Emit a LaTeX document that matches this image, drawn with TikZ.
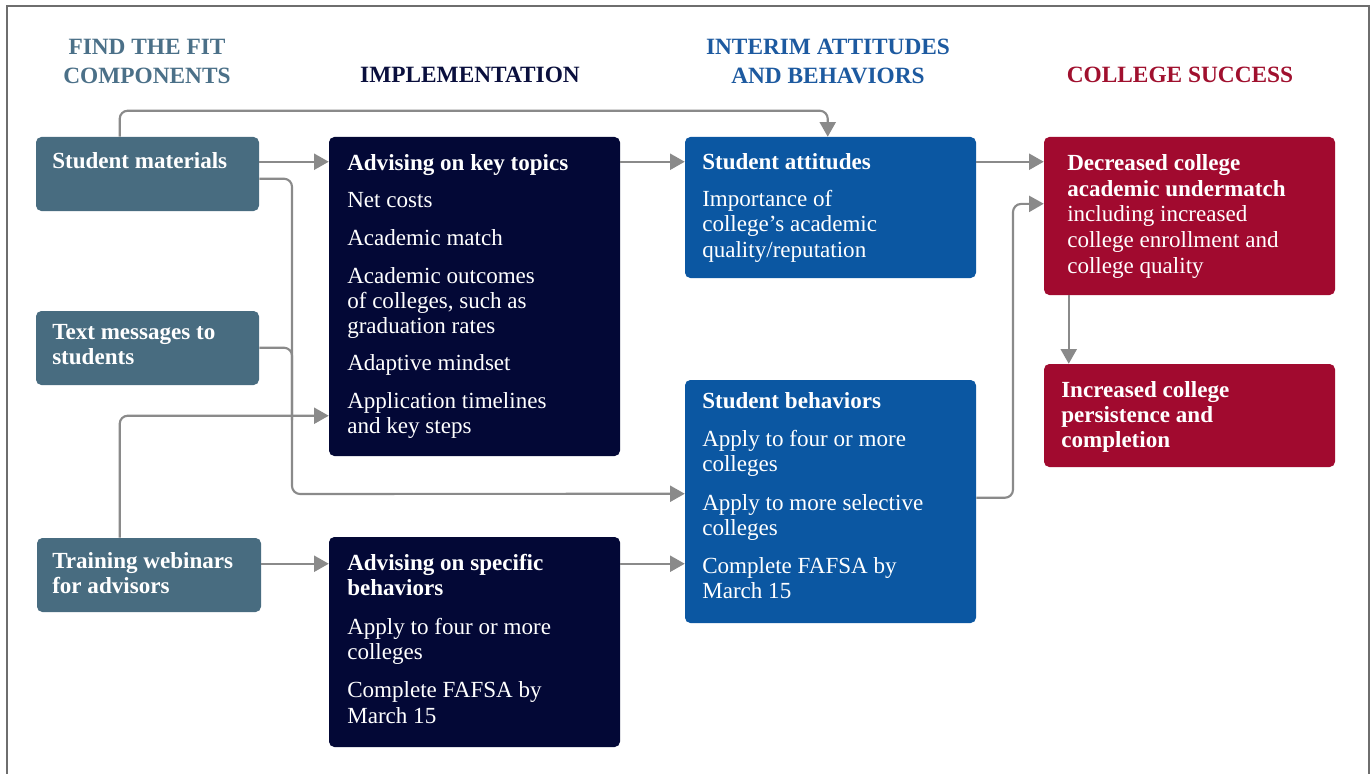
\documentclass[tikz,border=0pt]{standalone}
\usepackage{fontspec}
\setmainfont{Liberation Serif}
\usetikzlibrary{arrows.meta,calc,fit}
\definecolor{slate}{HTML}{486C80}
\definecolor{hslate}{HTML}{4B7088}
\definecolor{navy}{HTML}{030836}
\definecolor{hnavy}{HTML}{0A0F3D}
\definecolor{blu}{HTML}{0B57A2}
\definecolor{hblu}{HTML}{1D5AA0}
\definecolor{crim}{HTML}{A10A2F}
\definecolor{hcrim}{HTML}{A0102E}
\definecolor{lineg}{HTML}{8A8A8A}
\definecolor{framec}{HTML}{6E6E6E}
\begin{document}
\begin{tikzpicture}[x=0.75pt,y=-0.75pt,
  box/.style={rounded corners=4pt, inner sep=0pt, draw=none},
  txt/.style={anchor=north west, inner sep=0pt, text=white, align=left,
    font=\fontsize{17.3}{18.8}\selectfont},
  hdr/.style={inner sep=0pt, align=center, font=\bfseries\fontsize{17.5}{21.75}\selectfont},
  conn/.style={draw=lineg, line width=1.6pt, rounded corners=6pt,
    -{Triangle[length=11pt,width=12pt]}},
  plain/.style={draw=lineg, line width=1.6pt, rounded corners=6pt}
]
\useasboundingbox (0,0) rectangle (1372,774);
\fill[white] (0,0) rectangle (1372,774);
\draw[framec, line width=1.2pt] (7,774) -- (7,6) -- (1369,6) -- (1369,774);

% headers
\node[hdr, text=hslate, anchor=north] (h1) at (147,38.5) {FIND THE FIT\\COMPONENTS};
\node[hdr, text=hnavy, anchor=base] (h2) at (470,83) {IMPLEMENTATION};
\node[hdr, text=hblu, anchor=north] (h3) at (828,38.5) {INTERIM ATTITUDES\\AND BEHAVIORS};
\node[hdr, text=hcrim, anchor=base] (h4) at (1180,83) {COLLEGE SUCCESS};

% boxes
\node[box, fill=slate, fit={(36,137)(259,211)}] (sm) {};
\node[box, fill=slate, fit={(36,311)(259,385)}] (tm) {};
\node[box, fill=slate, fit={(37,538)(261,612)}] (tw) {};
\node[box, fill=navy, fit={(329,137)(620,456)}] (akt) {};
\node[box, fill=navy, fit={(329,537)(620,747)}] (asb) {};
\node[box, fill=blu, fit={(685,137)(976,278)}] (sa) {};
\node[box, fill=blu, fit={(685,380)(976,623)}] (sb) {};
\node[box, fill=crim, fit={(1044,137)(1335,295)}] (dec) {};
\node[box, fill=crim, fit={(1044,364)(1335,467)}] (inc) {};

% texts
\node[txt] (smt) at (52,152) {\textbf{Student materials}};
\node[txt] (tmt) at (52,324) {\textbf{Text messages to}\\\textbf{students}};
\node[txt] (twt) at (52,552) {\textbf{Training webinars}\\\textbf{for advisors}};
\node[txt] (aktt) at (347,154) {\textbf{Advising on key topics}\\[9.4pt]
  Net costs\\[9.4pt]
  Academic match\\[9.4pt]
  Academic outcomes\\of colleges, such as\\graduation rates\\[9.4pt]
  Adaptive mindset\\[9.4pt]
  Application timelines\\and key steps};
\node[txt] (asbt) at (347,554) {\textbf{Advising on specific}\\\textbf{behaviors}\\[10.2pt]
  Apply to four or more\\colleges\\[10.2pt]
  Complete FAFSA by\\March 15};
\node[txt] (sat) at (702,153) {\textbf{Student attitudes}\\[9.4pt]
  Importance of\\college’s academic\\quality/reputation};
\node[txt] (sbt) at (702,392) {\textbf{Student behaviors}\\[10pt]
  Apply to four or more\\colleges\\[10pt]
  Apply to more selective\\colleges\\[10pt]
  Complete FAFSA by\\March 15};
\node[txt, font=\fontsize{17.3}{19.3}\selectfont] (dect) at (1067,154) {\textbf{Decreased college}\\\textbf{academic undermatch}\\
  including increased\\college enrollment and\\college quality};
\node[txt] (inct) at (1061,381) {\textbf{Increased college}\\\textbf{persistence and}\\\textbf{completion}};

% junction coordinates
\coordinate (jx) at (292,494);
\coordinate (jm) at (292,420);
\coordinate (jr) at (1013,204);

% connectors
\draw[conn] ($(sm.north east)+(0,25)$) -- ($(akt.north west)+(0,25)$);
\draw[conn] ($(sm.north west)+(84,0)$) |- ($(sa.north west)+(143,-26)$) -- ($(sa.north west)+(143,0)$);
\draw[conn] ($(sm.north east)+(0,42)$) -| (jx) -- ($(sb.north west)+(0,114)$);
\draw[plain] ($(tm.north east)+(0,37)$) -| (jm);
\draw[conn] ($(tw.north west)+(83,0)$) |- ($(akt.north west)+(0,279)$);
\draw[conn] ($(tw.north east)+(0,26)$) -- ($(asb.north west)+(0,27)$);
\draw[conn] ($(akt.north east)+(0,25)$) -- ($(sa.north west)+(0,25)$);
\draw[conn] ($(asb.north east)+(0,27)$) -- ($(sb.north west)+(0,184)$);
\draw[conn] ($(sa.north east)+(0,25)$) -- ($(dec.north west)+(0,25)$);
\draw[conn] ($(sb.north east)+(0,118)$) -| (jr) -- ($(dec.north west)+(0,67)$);
\draw[conn] ($(dec.south west)+(25,0)$) -- ($(inc.north west)+(25,0)$);
\end{tikzpicture}
\end{document}
